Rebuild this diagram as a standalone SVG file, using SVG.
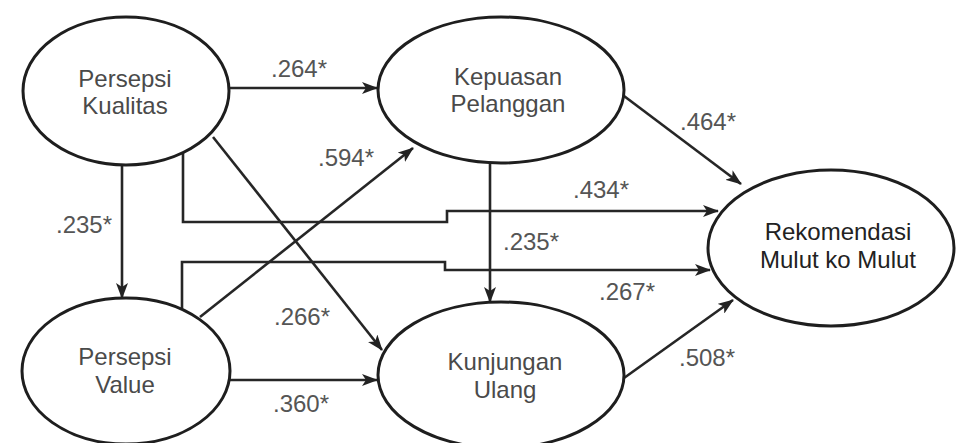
<svg xmlns="http://www.w3.org/2000/svg" width="969" height="443" viewBox="0 0 969 443">
<style>
.node ellipse{fill:#fff;stroke:#1e1e1e;stroke-width:3}
.node text{font-family:"Liberation Sans",Arial,sans-serif;font-size:24px;fill:#4a4a4a;text-anchor:middle}
#rmm text{fill:#222}
.conn path,.conn line{fill:none;stroke:#262626;stroke-width:2.6}
.lbl{font-family:"Liberation Sans",Arial,sans-serif;font-size:24px;fill:#555;text-anchor:middle}
</style>
<defs>
<marker id="ah" markerUnits="userSpaceOnUse" markerWidth="16" markerHeight="12" refX="15" refY="6" orient="auto">
<path d="M0,0 L16,6 L0,12 L4,6 z" fill="#222"/>
</marker>
</defs>
<rect width="969" height="443" fill="#fff"/>
<g class="conn">
<line x1="230" y1="88" x2="377" y2="88" marker-end="url(#ah)"/>
<line x1="213" y1="137" x2="382" y2="350" marker-end="url(#ah)"/>
<line x1="122" y1="165" x2="122" y2="298" marker-end="url(#ah)"/>
<path d="M183,153 V222 H447 V211 H718" marker-end="url(#ah)"/>
<path d="M182,309 V262 H445 V270 H710" marker-end="url(#ah)"/>
<line x1="200" y1="317" x2="413" y2="148" marker-end="url(#ah)"/>
<line x1="490" y1="163" x2="490" y2="302" marker-end="url(#ah)"/>
<line x1="624" y1="96" x2="741" y2="184" marker-end="url(#ah)"/>
<line x1="230" y1="380" x2="377" y2="380" marker-end="url(#ah)"/>
<line x1="624" y1="378" x2="733" y2="300" marker-end="url(#ah)"/>
</g>
<g id="labels">
<text class="lbl" x="299" y="77">.264*</text>
<text class="lbl" x="346" y="166">.594*</text>
<text class="lbl" x="708" y="130">.464*</text>
<text class="lbl" x="601" y="198">.434*</text>
<text class="lbl" x="84" y="233">.235*</text>
<text class="lbl" x="531" y="250">.235*</text>
<text class="lbl" x="627" y="300">.267*</text>
<text class="lbl" x="302" y="325">.266*</text>
<text class="lbl" x="301" y="412">.360*</text>
<text class="lbl" x="707" y="366">.508*</text>
</g>
<g id="pk" class="node">
<ellipse cx="126" cy="91" rx="103" ry="74"/>
<text x="125" y="87">Persepsi</text>
<text x="125" y="114">Kualitas</text>
</g>
<g id="kp" class="node">
<ellipse cx="501" cy="90" rx="123" ry="73"/>
<text x="508" y="85">Kepuasan</text>
<text x="508" y="112">Pelanggan</text>
</g>
<g id="pv" class="node">
<ellipse cx="126" cy="371" rx="104" ry="73"/>
<text x="125" y="365">Persepsi</text>
<text x="125" y="393">Value</text>
</g>
<g id="ku" class="node">
<ellipse cx="501" cy="375" rx="123" ry="73"/>
<text x="505" y="370">Kunjungan</text>
<text x="505" y="398">Ulang</text>
</g>
<g id="rmm" class="node">
<ellipse cx="831" cy="248" rx="123" ry="78"/>
<text x="838" y="240">Rekomendasi</text>
<text x="838" y="268">Mulut ko Mulut</text>
</g>
</svg>
